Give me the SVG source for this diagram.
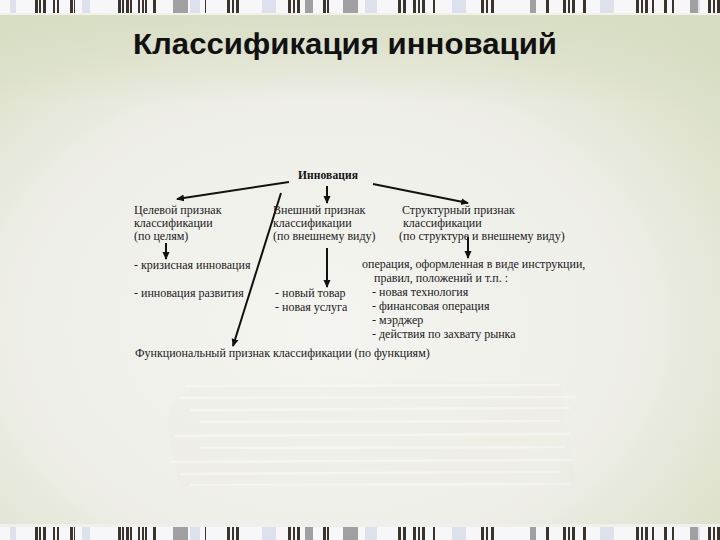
<svg xmlns="http://www.w3.org/2000/svg" width="720" height="540" viewBox="0 0 720 540">
<defs>
<radialGradient id="bg" cx="0.45" cy="0.6" r="0.75">
<stop offset="0" stop-color="#f4f4f0"/>
<stop offset="0.55" stop-color="#efefe9"/>
<stop offset="1" stop-color="#d6dcc0"/>
</radialGradient>
<linearGradient id="topfade" x1="0" y1="0" x2="0" y2="1">
<stop offset="0" stop-color="#d8dec3" stop-opacity="0.9"/>
<stop offset="1" stop-color="#d8dec3" stop-opacity="0"/>
</linearGradient>
<marker id="ah" markerWidth="8" markerHeight="8" refX="7" refY="4" orient="auto" markerUnits="userSpaceOnUse">
<path d="M0,0.5 L8,4 L0,7.5 Z" fill="#111"/>
</marker>
<g id="bars">
<rect x="0" y="0" width="720" height="13" fill="#f7f7fa"/>
<g fill="#dde1ec">
<rect x="10" y="0" width="6" height="13"/><rect x="82" y="0" width="8" height="13"/><rect x="190" y="0" width="10" height="13"/><rect x="262" y="0" width="14" height="13"/><rect x="365" y="0" width="12" height="13"/><rect x="452" y="0" width="14" height="13"/><rect x="600" y="0" width="14" height="13"/><rect x="690" y="0" width="10" height="13"/>
</g>
<g fill="#a0a0a2">
<rect x="173" y="0" width="15" height="13"/><rect x="343" y="0" width="15" height="13"/><rect x="305" y="0" width="8" height="13"/><rect x="530" y="0" width="6" height="13"/><rect x="690" y="0" width="8" height="13"/>
</g>
<g fill="#3b342e">
<rect x="35" y="0" width="3" height="13"/><rect x="39" y="0" width="2" height="13"/><rect x="43" y="0" width="3" height="13"/><rect x="53" y="0" width="2" height="13"/><rect x="57" y="0" width="2" height="13"/><rect x="70" y="0" width="3" height="13"/><rect x="74" y="0" width="1" height="13"/>
<rect x="118" y="0" width="3" height="13"/><rect x="122" y="0" width="2" height="13"/><rect x="126" y="0" width="3" height="13"/><rect x="130" y="0" width="2" height="13"/><rect x="138" y="0" width="2" height="13"/><rect x="142" y="0" width="2" height="13"/><rect x="145" y="0" width="2" height="13"/><rect x="153" y="0" width="3" height="13"/>
<rect x="205" y="0" width="1" height="13"/><rect x="227" y="0" width="3" height="13"/><rect x="232" y="0" width="2" height="13"/><rect x="236" y="0" width="3" height="13"/>
<rect x="288" y="0" width="3" height="13"/><rect x="293" y="0" width="2" height="13"/><rect x="297" y="0" width="3" height="13"/><rect x="323" y="0" width="3" height="13"/><rect x="327" y="0" width="2" height="13"/>
<rect x="398" y="0" width="3" height="13"/><rect x="403" y="0" width="3" height="13"/><rect x="413" y="0" width="3" height="13"/><rect x="418" y="0" width="2" height="13"/><rect x="422" y="0" width="3" height="13"/><rect x="433" y="0" width="2" height="13"/>
<rect x="481" y="0" width="3" height="13"/><rect x="486" y="0" width="2" height="13"/><rect x="491" y="0" width="3" height="13"/><rect x="546" y="0" width="3" height="13"/>
<rect x="563" y="0" width="3" height="13"/><rect x="568" y="0" width="2" height="13"/><rect x="572" y="0" width="3" height="13"/><rect x="583" y="0" width="3" height="13"/>
<rect x="636" y="0" width="3" height="13"/><rect x="641" y="0" width="2" height="13"/><rect x="645" y="0" width="3" height="13"/><rect x="652" y="0" width="2" height="13"/><rect x="664" y="0" width="3" height="13"/><rect x="672" y="0" width="2" height="13"/>
<rect x="708" y="0" width="3" height="13"/><rect x="713" y="0" width="2" height="13"/><rect x="717" y="0" width="3" height="13"/>
</g>
</g>
</defs>
<style>
.t{font-family:"Liberation Serif","Times New Roman",serif;font-size:12px;fill:#1a1a1a}
.b{font-family:"Liberation Serif","Times New Roman",serif;font-size:11.5px;font-weight:bold;fill:#111}
.title{font-family:"Liberation Sans",Arial,sans-serif;font-size:30px;font-weight:bold;fill:#111}
.c{stroke:#111;stroke-width:2;fill:none}
</style>
<rect width="720" height="540" fill="url(#bg)"/>
<rect y="14" width="720" height="90" fill="url(#topfade)"/>
<g id="paper-stack" opacity="0.3">
<path d="M170,440 Q160,400 200,385 L560,382 L575,480 L180,488 Z" fill="#e6eada" opacity="0.6"/>
<g stroke="#ffffff" stroke-width="2.5" fill="none">
<path d="M185,386 L560,385"/><path d="M180,398 L575,397"/><path d="M190,410 L570,408"/><path d="M200,422 L560,421"/><path d="M175,436 L570,434"/><path d="M200,448 L565,447"/><path d="M170,462 L575,460"/><path d="M180,474 L560,472"/><path d="M190,485 L570,484"/>
</g>
</g>
<use href="#bars" y="0"/>
<rect x="0" y="13" width="720" height="2" fill="#f2f2ea"/>
<use href="#bars" y="527"/>
<rect x="0" y="524" width="720" height="3" fill="#f0f0ea"/>
<text class="title" x="133" y="54" textLength="424" lengthAdjust="spacingAndGlyphs">Классификация инноваций</text>
<g id="connectors">
<line class="c" x1="289" y1="182" x2="177" y2="199" marker-end="url(#ah)"/>
<line class="c" x1="327" y1="186" x2="327" y2="203" marker-end="url(#ah)"/>
<line class="c" x1="373" y1="184" x2="468" y2="203" marker-end="url(#ah)"/>
<line class="c" x1="281" y1="193" x2="233" y2="346" marker-end="url(#ah)"/>
<line class="c" x1="166" y1="243" x2="166" y2="259" marker-end="url(#ah)"/>
<line class="c" x1="327" y1="248" x2="327" y2="287" marker-end="url(#ah)"/>
<line class="c" x1="468" y1="237" x2="468" y2="258" marker-end="url(#ah)"/>
</g>
<g id="root"><text class="b" x="298" y="179" textLength="60">Инновация</text></g>
<g id="target">
<text class="t" x="134" y="214">Целевой признак</text>
<text class="t" x="134" y="227">классификации</text>
<text class="t" x="134" y="240">(по целям)</text>
</g>
<g id="external">
<text class="t" x="273" y="214">Внешний признак</text>
<text class="t" x="273" y="227">классификации</text>
<text class="t" x="273" y="240">(по внешнему виду)</text>
</g>
<g id="structural">
<text class="t" x="402" y="214">Структурный признак</text>
<text class="t" x="403" y="227">классификации</text>
<text class="t" x="399" y="240">(по структуре и внешнему виду)</text>
</g>
<g id="target-items">
<text class="t" x="134" y="269">- кризисная инновация</text>
<text class="t" x="134" y="297">- инновация развития</text>
</g>
<g id="external-items">
<text class="t" x="275" y="297">- новый товар</text>
<text class="t" x="275" y="311">- новая услуга</text>
</g>
<g id="structural-items">
<text class="t" x="362" y="268">операция, оформленная в виде инструкции,</text>
<text class="t" x="374" y="282">правил, положений и т.п. :</text>
<text class="t" x="372" y="296">- новая технология</text>
<text class="t" x="372" y="310">- финансовая операция</text>
<text class="t" x="372" y="324">- мэрджер</text>
<text class="t" x="372" y="338">- действия по захвату рынка</text>
</g>
<g id="functional">
<text class="t" x="135" y="357">Функциональный признак классификации (по функциям)</text>
</g>
</svg>
